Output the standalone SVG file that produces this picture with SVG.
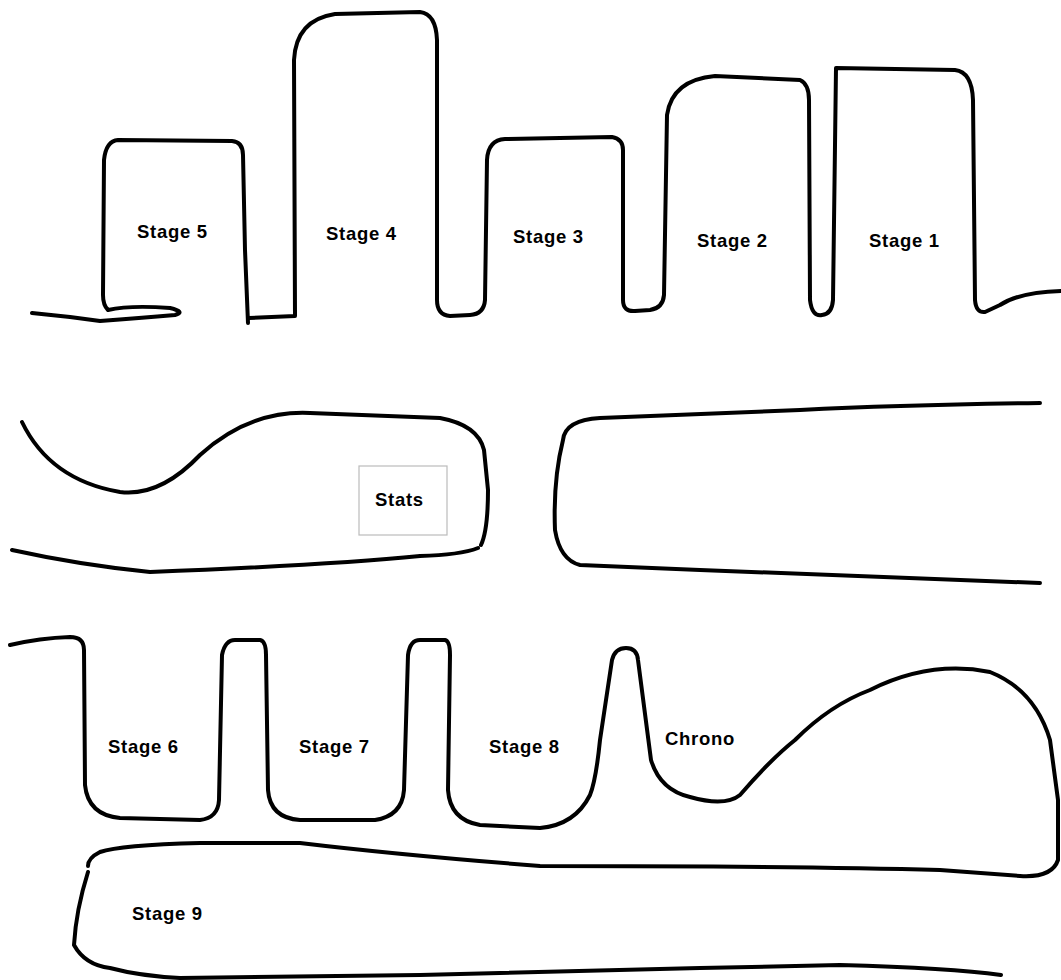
<svg xmlns="http://www.w3.org/2000/svg" width="1061" height="980" viewBox="0 0 1061 980">
<style>
.wall{fill:none;stroke:#000;stroke-width:4;stroke-linecap:round;stroke-linejoin:round}
.lbl{font-family:"Liberation Sans",Arial,sans-serif;font-weight:bold;font-size:18.5px;letter-spacing:0.7px;fill:#000}
.box{fill:#fff;stroke:#bbb;stroke-width:1.2}
</style>
<rect width="1061" height="980" fill="#fff"/>
<g id="outlines">
<path class="wall" d="M32,313 L70,317 L100,321 Q140,318 175,315 Q186,312 170,308 Q130,305 108,310 Q103,305 103,295 L104,160 Q106,141 118,140 L232,141 Q243,142 243,155 L245,250 L248,323 M249,318 L295,316 L294,60 Q296,20 335,14 L420,12 Q436,14 437,40 L437,300 Q437,315 450,316 L470,315 Q484,314 485,300 L487,160 Q488,140 505,139 L612,137 Q623,139 623,150 L623,300 Q623,312 635,311 L650,310 Q663,308 664,295 L667,115 Q672,80 715,76 L800,80 Q809,84 809,100 L810,300 Q812,317 822,315 Q832,314 833,300 L836,68 L955,70 Q972,72 973,100 L975,300 Q976,313 985,312 L1000,305 Q1020,292 1061,291"/>
<path class="wall" d="M22,422 Q50,480 120,492 Q160,497 200,455 Q250,410 310,413 L440,418 Q478,425 484,450 L488,490 Q488,530 481,545 M478,548 Q460,555 420,556 Q330,565 150,572 Q80,565 12,550"/>
<path class="wall" d="M1040,403 Q900,405 800,410 L600,418 Q565,420 563,440 Q553,480 555,530 Q560,560 580,565 L700,570 Q900,578 1040,583"/>
<path class="wall" d="M10,645 Q40,638 70,637 Q84,637 84,650 L85,785 Q88,815 120,818 L200,820 Q218,818 219,800 L222,655 Q225,640 235,640 L260,640 Q266,641 266,655 L268,790 Q270,818 300,820 L375,820 Q402,816 404,790 L408,655 Q410,640 420,640 L445,640 Q450,641 450,655 L448,790 Q450,820 480,825 L540,828 Q575,825 590,795 Q596,780 600,740 L612,660 Q615,648 626,648 Q637,648 638,660 L651,760 Q660,790 690,797 Q725,807 740,795 Q770,760 795,740 Q830,705 870,690 Q930,660 990,672 Q1035,690 1050,740 L1058,800 L1058,860 Q1052,878 1020,876 L940,870 Q800,866 540,866 Q400,855 300,843 L200,843 Q120,845 100,852 Q88,858 88,866"/>
<path class="wall" d="M88,872 Q76,910 74,945 Q85,965 110,968 Q140,976 180,978 L420,975 Q600,970 700,968 L840,965 Q950,968 1001,975"/>
</g>
<g id="stage5"><text class="lbl" x="137" y="238">Stage 5</text></g>
<g id="stage4"><text class="lbl" x="326" y="240">Stage 4</text></g>
<g id="stage3"><text class="lbl" x="513" y="243">Stage 3</text></g>
<g id="stage2"><text class="lbl" x="697" y="247">Stage 2</text></g>
<g id="stage1"><text class="lbl" x="869" y="247">Stage 1</text></g>
<g id="stats"><rect class="box" x="359" y="466" width="88" height="69"/><text class="lbl" x="375" y="506">Stats</text></g>
<g id="stage6"><text class="lbl" x="108" y="753">Stage 6</text></g>
<g id="stage7"><text class="lbl" x="299" y="753">Stage 7</text></g>
<g id="stage8"><text class="lbl" x="489" y="753">Stage 8</text></g>
<g id="chrono"><text class="lbl" x="665" y="745">Chrono</text></g>
<g id="stage9"><text class="lbl" x="132" y="920">Stage 9</text></g>
</svg>
